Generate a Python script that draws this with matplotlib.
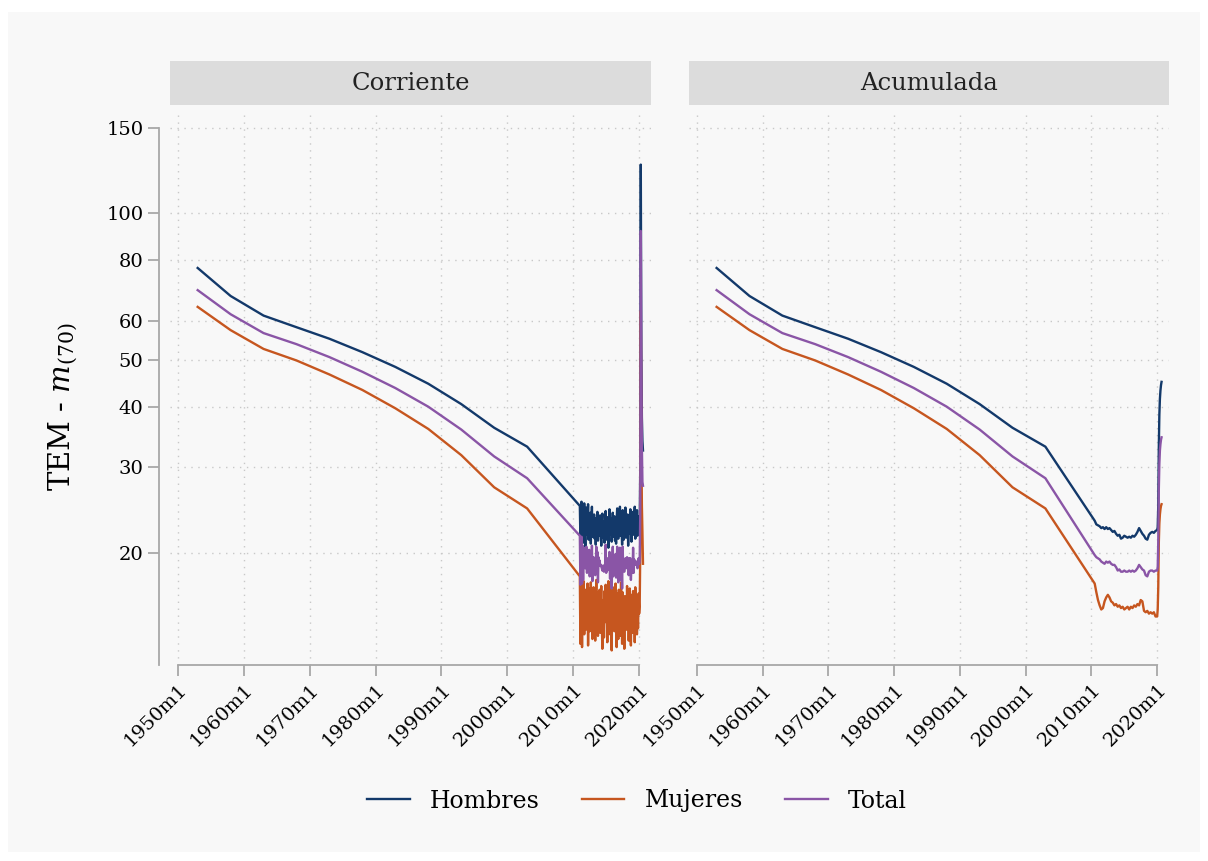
import matplotlib
matplotlib.use("Agg")
import matplotlib.pyplot as plt
from matplotlib.patches import Rectangle
import numpy as np

plt.rcParams['font.family'] = ['DejaVu Serif']
plt.rcParams['mathtext.fontset'] = 'dejavuserif'

# periodos quinquenales (valor centrado en el año)
anios_5 = [1953, 1958, 1963, 1968, 1973, 1978, 1983, 1988, 1993, 1998, 2003]
hom_5 = [77.2, 67.6, 61.6, 58.3, 55.2, 51.8, 48.3, 44.6, 40.5, 36.2, 33.1]
tot_5 = [69.5, 62.0, 56.7, 53.8, 50.6, 47.2, 43.7, 40.0, 35.9, 31.6, 28.5]
muj_5 = [64.2, 57.5, 52.6, 49.8, 46.6, 43.3, 39.7, 36.0, 31.8, 27.3, 24.7]

# corriente: mensual 2011m1 - 2019m12
hom_mes = [25.0, 21.5, 23.8, 25.5, 22.0, 24.6, 21.0, 23.2, 25.3, 22.4, 20.6, 23.9,
           24.8, 21.8, 22.9, 25.2, 21.3, 23.5, 22.0, 24.2, 20.9, 22.7, 24.9, 21.6,
           23.1, 22.2, 24.0, 21.4, 22.8, 20.8, 23.6, 22.1, 24.3, 21.2, 22.6, 23.4,
           21.7, 23.9, 22.3, 20.7, 22.9, 24.1, 21.5, 22.4, 23.2, 21.0, 22.7, 24.4,
           22.0, 21.3, 23.7, 22.5, 20.5, 23.0, 24.6, 21.8, 22.2, 23.5, 21.1, 22.8,
           24.2, 21.6, 22.9, 23.8, 21.2, 22.5, 20.9, 23.3, 24.7, 22.1, 21.4, 23.6,
           22.4, 24.9, 21.7, 23.0, 22.3, 20.8, 24.5, 22.6, 21.3, 23.9, 22.0, 24.8,
           21.5, 23.4, 22.1, 24.0, 20.7, 22.8, 23.6, 21.9, 24.6, 22.3, 21.1, 23.2,
           22.6, 24.3, 21.8, 22.9, 24.9, 21.4, 23.1, 22.2, 24.5, 21.7, 23.8, 22.5]
muj_mes = [17.9, 13.0, 15.8, 17.2, 12.8, 16.5, 14.2, 17.5, 13.6, 15.2, 16.8, 13.9,
           16.2, 14.5, 17.3, 12.9, 15.6, 16.9, 13.8, 15.0, 17.4, 14.1, 16.3, 13.3,
           15.4, 17.0, 14.0, 16.1, 13.2, 15.7, 17.6, 14.6, 15.9, 13.5, 16.6, 14.8,
           16.8, 13.7, 15.3, 17.1, 14.3, 12.7, 16.0, 15.1, 13.4, 16.7, 14.9, 17.2,
           14.4, 15.8, 13.1, 16.4, 17.5, 14.0, 15.5, 13.6, 16.9, 14.7, 12.6, 15.9,
           17.0, 14.2, 16.2, 13.8, 15.4, 17.3, 14.6, 12.8, 16.5, 15.0, 13.3, 16.8,
           14.9, 16.1, 13.5, 17.4, 15.2, 13.0, 16.6, 14.4, 15.7, 12.7, 16.3, 14.1,
           15.6, 13.9, 17.1, 14.8, 16.0, 13.2, 15.3, 16.9, 14.3, 12.9, 16.4, 15.1,
           13.7, 16.7, 14.5, 15.9, 13.1, 17.0, 14.6, 16.2, 13.6, 15.4, 14.0, 16.5]
tot_mes = [21.7, 17.2, 19.9, 21.6, 17.3, 20.7, 17.6, 20.5, 19.6, 18.9, 18.6, 19.0,
           20.6, 18.2, 20.2, 19.0, 18.4, 20.3, 17.9, 19.7, 19.0, 18.4, 20.7, 17.5,
           19.3, 19.6, 19.0, 18.7, 18.0, 18.3, 20.6, 18.4, 20.1, 17.4, 19.6, 19.1,
           19.3, 18.8, 18.8, 18.9, 18.6, 18.4, 18.8, 18.8, 18.3, 18.9, 18.8, 20.8,
           18.2, 18.6, 18.4, 19.5, 19.0, 18.5, 20.1, 17.7, 19.6, 19.1, 16.9, 19.4,
           20.6, 17.9, 19.6, 18.8, 18.3, 19.9, 17.8, 18.1, 20.6, 18.6, 17.4, 20.2,
           18.7, 20.5, 17.6, 20.2, 18.8, 16.9, 20.6, 18.5, 18.5, 18.3, 19.2, 19.5,
           18.6, 18.7, 19.6, 19.4, 18.4, 18.0, 19.5, 19.4, 19.5, 17.6, 18.8, 19.2,
           18.2, 20.5, 18.2, 19.4, 19.0, 19.2, 18.9, 19.2, 19.1, 18.6, 18.9, 19.5]

# corriente 2020m1 - 2020m8
hom_2020 = [22.5, 22.8, 30.0, 126.0, 52.0, 38.0, 34.0, 32.5]
tot_2020 = [19.0, 19.3, 24.0, 92.0, 48.0, 33.0, 28.0, 27.5]
muj_2020 = [15.0, 15.5, 20.0, 63.0, 34.0, 25.0, 22.0, 19.0]

# acumulada: trimestral 2010q3 - 2019q4
hom_acu = [23.3, 22.9, 22.8, 22.7, 22.5, 22.6, 22.4, 22.6, 22.4, 22.5,
           22.3, 22.1, 22.2, 21.9, 21.7, 21.8, 21.4, 21.5, 21.7, 21.6,
           21.5, 21.6, 21.5, 21.7, 21.6, 21.8, 22.1, 22.5, 22.2, 21.9,
           21.7, 21.4, 21.3, 21.8, 22.0, 22.1, 22.0, 22.2]
tot_acu = [19.8, 19.6, 19.5, 19.4, 19.2, 19.1, 19.0, 19.2, 19.1, 19.2,
           19.0, 18.9, 18.9, 18.7, 18.4, 18.5, 18.3, 18.3, 18.4, 18.3,
           18.3, 18.4, 18.3, 18.4, 18.3, 18.4, 18.6, 18.9, 18.7, 18.5,
           18.4, 18.0, 17.9, 18.3, 18.4, 18.4, 18.3, 18.4]
muj_acu = [17.3, 16.6, 16.0, 15.6, 15.3, 15.4, 15.9, 16.2, 16.4, 16.2,
           15.9, 15.8, 15.6, 15.7, 15.5, 15.6, 15.4, 15.5, 15.3, 15.4,
           15.5, 15.3, 15.5, 15.4, 15.6, 15.5, 15.7, 15.6, 16.0, 15.9,
           15.2, 15.1, 15.2, 15.0, 15.1, 15.0, 15.1, 14.8]

# acumulada 2020m1 - 2020m9
hom_acu_2020 = [22.3, 22.6, 25.0, 33.0, 38.5, 41.5, 43.2, 44.3, 45.0]
tot_acu_2020 = [18.4, 18.7, 21.0, 27.0, 30.5, 32.5, 33.5, 34.2, 34.6]
muj_acu_2020 = [14.8, 15.3, 17.0, 21.0, 23.0, 24.0, 24.6, 25.0, 25.2]

series = ['Hombres', 'Mujeres', 'Total']
colores = {'Hombres': '#13396a', 'Mujeres': '#c6561f', 'Total': '#8a55a6'}
y_ticks = [20, 30, 40, 50, 60, 80, 100, 150]
x_ticks = [1950, 1960, 1970, 1980, 1990, 2000, 2010, 2020]

t_mes = 2011 + np.arange(len(hom_mes)) / 12
t_2020 = 2020 + np.arange(len(hom_2020)) / 12
t_acu = 2010.5 + np.arange(len(hom_acu)) / 4
t_acu_2020 = 2020 + np.arange(len(hom_acu_2020)) / 12

corriente = {
    'Hombres': hom_5 + hom_mes + hom_2020,
    'Mujeres': muj_5 + muj_mes + muj_2020,
    'Total': tot_5 + tot_mes + tot_2020,
}
acumulada = {
    'Hombres': hom_5 + hom_acu + hom_acu_2020,
    'Mujeres': muj_5 + muj_acu + muj_acu_2020,
    'Total': tot_5 + tot_acu + tot_acu_2020,
}
x_corr = np.concatenate([anios_5, t_mes, t_2020])
x_acu = np.concatenate([anios_5, t_acu, t_acu_2020])

fig = plt.figure(figsize=(12.08, 8.61), dpi=100, facecolor='white')
fig.patches.append(Rectangle((8 / 1208, 1 - 852 / 861), 1192 / 1208, 840 / 861,
                             transform=fig.transFigure, facecolor='#f8f8f8',
                             edgecolor='none', zorder=-10))

bottom = 1 - 665 / 861
top = 1 - 115 / 861
ax1 = fig.add_axes([170 / 1208, bottom, 481 / 1208, top - bottom])
ax2 = fig.add_axes([689 / 1208, bottom, 480 / 1208, top - bottom])

for ax, datos, x, titulo in [(ax1, corriente, x_corr, 'Corriente'),
                             (ax2, acumulada, x_acu, 'Acumulada')]:
    ax.set_facecolor('none')
    for s in series:
        ax.plot(x, datos[s], color=colores[s], lw=1.7, label=s, zorder=3)
    ax.set_yscale('log')
    ax.set_ylim(11.76, 159.4)
    ax.set_xlim(1948.8, 2021.8)
    ax.set_yticks(y_ticks)
    ax.set_yticklabels([str(v) for v in y_ticks])
    ax.minorticks_off()
    ax.set_xticks(x_ticks)
    ax.set_xticklabels([f'{v}m1' for v in x_ticks], rotation=45, ha='right',
                       va='top', rotation_mode='anchor', fontsize=14)
    ax.grid(True, color='#c8c8c8', ls=(0, (1, 4)), lw=1)
    for sp in ['top', 'right']:
        ax.spines[sp].set_visible(False)
    ax.spines['bottom'].set_bounds(1950, 2020)
    ax.spines['bottom'].set_color('#a8a8a8')
    ax.spines['bottom'].set_linewidth(1.3)
    ax.tick_params(axis='x', length=8, width=1.3, color='#a8a8a8', pad=3)
    ax.tick_params(axis='y', length=8, width=1.3, color='#a8a8a8', labelsize=14, pad=3)
    # franja del panel
    ax.add_patch(Rectangle((0, 1 + 10 / 550), 1, 44 / 550, transform=ax.transAxes,
                           facecolor='#dcdcdc', edgecolor='none', clip_on=False,
                           zorder=0))
    ax.text(0.5, 1.0 + 32 / 550, titulo, transform=ax.transAxes, ha='center',
            va='center', fontsize=17.5, color='#222222', zorder=1)

ax1.spines['left'].set_position(('outward', 8))
ax1.spines['left'].set_bounds(11.76, 150)
ax1.spines['left'].set_color('#a8a8a8')
ax1.spines['left'].set_linewidth(1.3)
ax1.set_ylabel(r'TEM - $m_{(70)}$', fontsize=21)
ax1.yaxis.set_label_coords(-0.188, 0.47)

ax2.spines['left'].set_visible(False)
ax2.tick_params(axis='y', left=False, labelleft=False)

handles, labels = ax1.get_legend_handles_labels()
fig.legend(handles, labels, loc='center',
           bbox_to_anchor=(637 / 1208, 1 - 801 / 861), ncol=3, frameon=False,
           fontsize=17, handlelength=1.8, columnspacing=1.8, handletextpad=0.85)

fig.savefig('out.png', dpi=100, facecolor=fig.get_facecolor())
